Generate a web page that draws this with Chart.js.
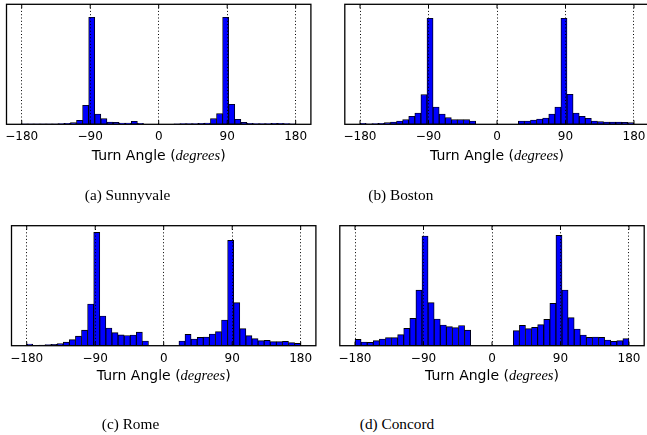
<!DOCTYPE html>
<html>
<head>
<meta charset="utf-8">
<script src="https://cdn.jsdelivr.net/npm/chart.js@4/dist/chart.umd.min.js"></script>
<style>
  html, body { margin: 0; padding: 0; background: #fff; }
  body { width: 647px; height: 435px; position: relative; overflow: hidden; }
  canvas { position: absolute; }
  .xlabel { position: absolute; width: 240px; text-align: center; font-family: "DejaVu Sans", sans-serif; font-size: 14px; line-height: 14px; color: #000; white-space: nowrap; }
  .xlabel i { font-family: "Liberation Serif", serif; font-size: 14.5px; }
  .caption { position: absolute; width: 200px; text-align: center; font-family: "Liberation Serif", serif; font-size: 15.3px; line-height: 15px; color: #000; white-space: nowrap; }
</style>
</head>
<body>
<script>
// 8 degree bins, centre of each bin
const binCenters = [-176, -168, -160, -152, -144, -136, -128, -120, -112, -104, -96, -88, -80, -72, -64,
    -56, -48, -40, -32, -24, -16, -8, 0, 8, 16, 24, 32, 40, 48, 56, 64, 72, 80, 88, 96, 104, 112, 120,
    128, 136, 144, 152, 160, 168, 176];

// counts per bin (arbitrary units, axis top = yMax)
const sunnyvale = [0.5, 0.5, 0.5, 0.5, 0.5, 0.5, 0.7, 1, 1.7, 4, 19, 107, 10.3, 5.7, 2.3,
    2, 1.3, 1.3, 3, 1, 0, 0, 0, 0, 0, 0.5, 0.7, 0.7, 0.7, 1, 1.3, 5.7, 10.7, 107, 20, 5, 2, 1,
    0.7, 0.7, 0.7, 1, 1, 0.7, 0.5];
const boston = [1, 0.5, 0.7, 1, 1.7, 2.3, 3.3, 4.7, 8, 11.3, 29.7, 106, 17.3, 10.3, 6.7,
    4.7, 4.7, 4.7, 3.3, 0, 0, 0, 0, 0, 0, 0, 3.3, 3.3, 4.3, 5.3, 6.3, 10.3, 17.3, 106, 30, 11.3, 8, 6,
    3.3, 2.7, 2.3, 2.3, 2.3, 2, 1.7];
const rome = [1.5, 0.4, 0.7, 1, 1.3, 2, 3.5, 6, 9.5, 15.5, 41.7, 113.3, 29.7, 17.7, 13,
    10.8, 10.2, 10.7, 13.5, 4.7, 0, 0, 0, 0, 0, 4.7, 11.3, 6.7, 8.3, 8.7, 11.7, 14, 25.7, 105.3, 43, 17, 10, 7,
    5, 5.3, 4, 4, 4.3, 3, 2.3];
const concord = [6.3, 3.7, 3.3, 5, 6.7, 8, 8, 11, 17.3, 27.3, 55.5, 109.7, 43, 26.7, 20.7,
    19, 18, 20.2, 15.5, 0, 0, 0, 0, 0, 0, 0, 15, 20.3, 17, 18.3, 21, 26.3, 42.3, 110.3, 55.7, 28, 16.7, 10.7,
    8.3, 8.7, 8.3, 5.7, 4.3, 5, 7];

const yMax = 120;
const tickValues = [-180, -90, 0, 90, 180];
const captions = ["(a) Sunnyvale", "(b) Boston", "(c) Rome", "(d) Concord"];

// plot boxes on the page
const BOX_W = 304.4, BOX_H = 120, AXIS_H = 28;
const panels = [
    {counts: sunnyvale, left: 6.5, top: 4.3, labelTop: 148.2, capCenter: 127.5, capTop: 187.2},
    {counts: boston, left: 344.8, top: 4.3, labelTop: 148.2, capCenter: 400.8, capTop: 187.2},
    {counts: rome, left: 11.5, top: 225.7, labelTop: 368.2, capCenter: 130.5, capTop: 416.2},
    {counts: concord, left: 339.8, top: 225.7, labelTop: 368.2, capCenter: 397, capTop: 416.2}
];

// box round the plot plus matplotlib style inward ticks
const frame = {
    id: 'frame',
    afterDraw(chart) {
        const {ctx, chartArea: a} = chart;
        const xs = chart.scales.x;
        ctx.save();
        ctx.strokeStyle = '#000';
        ctx.lineWidth = 1.3;
        ctx.strokeRect(a.left, a.top, a.right - a.left, a.bottom - a.top);
        ctx.lineWidth = 1;
        ctx.beginPath();
        tickValues.forEach(v => {
            const px = xs.getPixelForValue(v);
            ctx.moveTo(px, a.top);
            ctx.lineTo(px, a.top + 4);
            ctx.moveTo(px, a.bottom);
            ctx.lineTo(px, a.bottom - 4);
        });
        ctx.stroke();
        ctx.restore();
    }
};

panels.forEach((p, i) => {
    const cLeft = Math.floor(p.left - 20);
    const cTop = Math.floor(p.top - 5);
    const padLeft = p.left - cLeft;
    const padTop = p.top - cTop;
    const cW = Math.ceil(padLeft + BOX_W + 20);
    const cH = Math.ceil(padTop + BOX_H + AXIS_H);

    const canvas = document.createElement('canvas');
    canvas.width = cW;
    canvas.height = cH;
    canvas.style.left = cLeft + 'px';
    canvas.style.top = cTop + 'px';
    document.body.appendChild(canvas);

    new Chart(canvas, {
        type: 'bar',
        data: {
            datasets: [{
                data: binCenters.map((x, k) => ({x: x, y: p.counts[k]})),
                backgroundColor: '#0000ff',
                borderColor: '#000',
                borderWidth: 0.9,
                borderSkipped: false,
                barPercentage: 1,
                categoryPercentage: 1
            }]
        },
        options: {
            responsive: false,
            animation: false,
            layout: {
                padding: {left: padLeft, right: cW - padLeft - BOX_W, top: padTop, bottom: cH - padTop - BOX_H - AXIS_H}
            },
            plugins: {legend: {display: false}, tooltip: {enabled: false}},
            scales: {
                x: {
                    type: 'linear',
                    min: -200,
                    max: 200,
                    offset: false,
                    afterBuildTicks: s => { s.ticks = tickValues.map(v => ({value: v})); },
                    afterFit: s => { s.height = AXIS_H; },
                    ticks: {
                        padding: 5.5,
                        color: '#000',
                        autoSkip: false,
                        maxRotation: 0,
                        font: {family: 'DejaVu Sans', size: 12},
                        callback: v => String(v).replace('-', '\u2212')
                    },
                    grid: {color: '#000', lineWidth: 1, drawTicks: false, offset: false, z: 1},
                    border: {display: false, dash: [1, 2.3]}
                },
                y: {display: false, min: 0, max: yMax}
            }
        },
        plugins: [frame]
    });

    const xl = document.createElement('div');
    xl.className = 'xlabel';
    xl.style.left = (p.left + BOX_W / 2 - 120) + 'px';
    xl.style.top = p.labelTop + 'px';
    xl.innerHTML = 'Turn Angle (<i>degrees</i>)';
    document.body.appendChild(xl);

    const cap = document.createElement('div');
    cap.className = 'caption';
    cap.style.left = (p.capCenter - 100) + 'px';
    cap.style.top = p.capTop + 'px';
    cap.textContent = captions[i];
    document.body.appendChild(cap);
});
</script>
</body>
</html>
